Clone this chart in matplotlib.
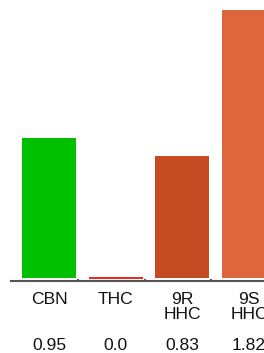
import matplotlib
matplotlib.use("Agg")
import matplotlib.pyplot as plt

categories = ["CBN", "THC", "9R\nHHC", "9S\nHHC"]
values = [0.95, 0.0, 0.83, 1.82]
value_labels = ["0.95", "0.0", "0.83", "1.82"]
colors = ["#00c000", "#ffffff", "#c44b22", "#df653c"]
edge_colors = ["none", "#e00000", "none", "none"]

W, H = 264, 353
fig = plt.figure(figsize=(W / 100, H / 100), dpi=100)
plt.rcParams['font.family'] = ['Liberation Sans', 'DejaVu Sans']

# pixel geometry
x0px = 49.0       # center of first bar
step = 66.67      # px per category
ppu = 147.4       # px per unit value
base_px = 278.0   # bar baseline (px from top)
ax_left_px = 10.5
ax_bottom_px = 281.0

ax = fig.add_axes([ax_left_px / W, (H - ax_bottom_px) / H, 1 - ax_left_px / W, ax_bottom_px / H])
ax.set_xlim((ax_left_px - x0px) / step, (W - x0px) / step)
ax.set_ylim(-(ax_bottom_px - base_px) / ppu, base_px / ppu)

for i, (v, c, ec) in enumerate(zip(values, colors, edge_colors)):
    if ec != "none":
        ax.bar(i, v, width=0.81, color=c, edgecolor=ec, linewidth=1.2)
    else:
        ax.bar(i, v, width=0.81, color=c, linewidth=0)

for s in ["top", "right", "left"]:
    ax.spines[s].set_visible(False)
ax.spines["bottom"].set_color("#555555")
ax.spines["bottom"].set_linewidth(1.5)
ax.set_yticks([])
ax.set_xticks([i + 0.435 for i in range(3)])
ax.set_xticklabels([])
ax.tick_params(axis="x", length=1.5, width=1.2, color="#333333", direction="in")

for i, (cat, lab) in enumerate(zip(categories, value_labels)):
    xpix = x0px + step * i
    fig.text(xpix / W, 1 - 291.5 / H, cat, ha="center", va="top", fontsize=12.6,
             linespacing=1.05, color="#111111")
    fig.text(xpix / W, 1 - 350.5 / H, lab, ha="center", va="baseline", fontsize=12.6,
             color="#111111")

fig.savefig("out.png", dpi=100)
